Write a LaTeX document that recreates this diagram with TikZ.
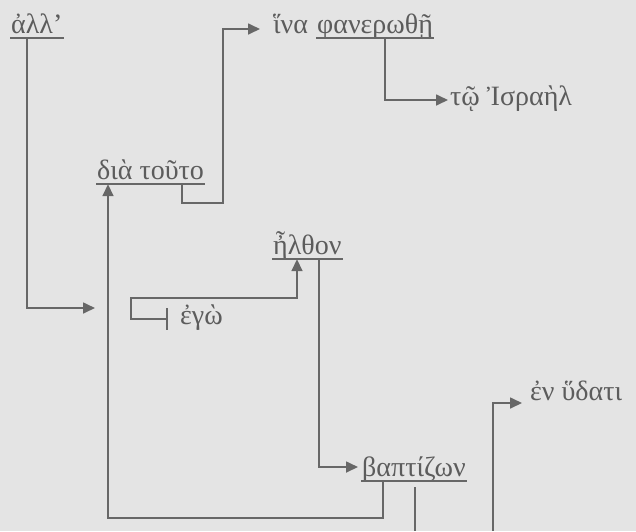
\documentclass[tikz,border=0pt]{standalone}
\usepackage{fontspec}
\setmainfont{Liberation Serif}
\usetikzlibrary{arrows.meta}
\definecolor{fondo}{HTML}{E4E4E4}
\definecolor{linea}{HTML}{676767}
\definecolor{texto}{HTML}{5C5C5C}
\begin{document}
\begin{tikzpicture}[
    x=1pt, y=-1pt,
    every node/.style={font=\fontsize{28}{32}\selectfont, text=texto,
        inner sep=0pt, anchor=base west, text depth=5pt},
    rama/.style={linea, line width=1.7pt},
    flecha/.style={rama, -{Triangle[length=12pt,width=11pt]}},
    subr/.style={linea, line width=1.5pt}]
    % Fondo.
    \fill[fondo] (0,0) rectangle (636,531);
    \useasboundingbox (0,0) rectangle (636,531);

    % Palabras del texto.
    \node (all) at (11,33) {ἀλλ’};
    \node (ina) at (273,33) {ἵνα};
    \node (fan) at (317,33) {φανερωθῇ};
    \node (tw) at (450,105) {τῷ Ἰσραὴλ};
    \node (dia) at (97,179) {διὰ τοῦτο};
    \node (hel) at (273,254) {ἦλθον};
    \node (ego) at (180,324) {ἐγὼ};
    \node (bap) at (362,476) {βαπτίζων};
    \node (en) at (530,400) {ἐν ὕδατι};
    \coordinate (suj) at (95,308);
    \coordinate (abajo1) at (415,531);
    \coordinate (abajo2) at (493,531);

    % Subrayados.
    \foreach \n in {all,fan,dia,hel,bap}
        \draw[subr] ([xshift=-1pt]\n.south west) -- ([xshift=1pt]\n.south east);

    % Conectores.
    \draw[flecha] ([xshift=16pt]all.south west) |- (suj);
    \draw[flecha] ([xshift=85pt]dia.south west) -- ++(0,19) -- ++(41,0)
        |- ([xshift=-13pt,yshift=4pt]ina.base west);
    \draw[flecha] ([xshift=68pt]fan.south west)
        |- ([xshift=-2pt,yshift=5pt]tw.base west);
    \draw[rama] ([xshift=-13pt,yshift=16pt]ego.base west)
        -- ([xshift=-13pt,yshift=-6pt]ego.base west);
    \draw[flecha] ([xshift=-13pt,yshift=5pt]ego.base west) -- ++(-36,0) -- ++(0,-21)
        -| ([xshift=24pt]hel.south west);
    \draw[flecha] ([xshift=46pt]hel.south west)
        |- ([xshift=-4pt,yshift=9pt]bap.base west);
    \draw[flecha] ([xshift=21pt]bap.south west) -- ++(0,37)
        -| ([xshift=11pt]dia.south west);
    \draw[rama] ([xshift=53pt,yshift=-6pt]bap.south west) -- (abajo1);
    \draw[flecha] (abajo2) |- ([xshift=-8pt,yshift=-3pt]en.base west);
\end{tikzpicture}
\end{document}
